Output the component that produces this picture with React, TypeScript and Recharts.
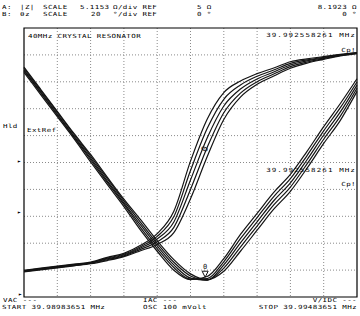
import React from 'react';
import { LineChart, Line, XAxis, YAxis, CartesianGrid, ReferenceArea, ReferenceDot } from 'recharts';

// sweep: START 39.98983651 MHz, STOP 39.99483651 MHz -> offset in kHz
const freqKHz = [0, 0.25, 0.5, 0.75, 1, 1.25, 1.5, 1.75, 2, 2.25, 2.5, 2.75, 3, 3.25, 3.5, 3.75, 4, 4.25, 4.5, 4.75, 5];

// |Z| in ohm, five overlaid sweeps
const zSweep1 = [47.7, 43.5, 39.3, 35.1, 30.7, 26.4, 22.2, 17.7, 13.7, 10.1, 8.3, 8.9, 12.3, 16.9, 20.9, 24.9, 28.3, 32.7, 37.4, 41.8, 46.5];
const zSweep2 = [48.0, 43.8, 39.6, 35.4, 31.1, 26.8, 22.6, 18.2, 14.2, 10.6, 8.4, 8.5, 11.7, 16.1, 20.1, 24.1, 27.5, 31.9, 36.6, 41.0, 45.9];
const zSweep3 = [48.2, 44.0, 39.8, 35.6, 31.4, 27.1, 22.9, 18.7, 14.7, 11.1, 8.6, 8.2, 11.1, 15.3, 19.3, 23.3, 26.7, 31.1, 35.8, 40.2, 45.3];
const zSweep4 = [48.5, 44.3, 40.1, 35.9, 31.8, 27.5, 23.3, 19.2, 15.2, 11.6, 9.0, 8.2, 10.5, 14.5, 18.5, 22.5, 25.9, 30.3, 35.0, 39.4, 44.7];
const zSweep5 = [48.7, 44.5, 40.3, 36.1, 32.1, 27.8, 23.6, 19.7, 15.7, 12.1, 9.4, 8.3, 9.9, 13.7, 17.7, 21.7, 25.1, 29.5, 34.2, 38.6, 44.1];

// theta z in degrees, five overlaid sweeps
const thSweep1 = [-80.1, -78.6, -77.1, -75.6, -74.1, -70.5, -67.6, -61.6, -52.9, -36.2, 1.0, 32.2, 52.0, 60.6, 66.1, 70.3, 74.9, 77.1, 78.7, 80.5, 81.8];
const thSweep2 = [-80.4, -78.9, -77.4, -75.9, -74.4, -71.1, -68.2, -62.6, -54.9, -40.2, -6.0, 25.2, 47.0, 57.6, 64.1, 68.8, 73.7, 76.3, 78.2, 80.2, 81.6];
const thSweep3 = [-80.7, -79.2, -77.7, -76.2, -74.7, -71.7, -68.8, -63.6, -56.9, -44.2, -13.0, 18.2, 42.0, 54.6, 62.1, 67.3, 72.5, 75.5, 77.7, 79.9, 81.4];
const thSweep4 = [-81.0, -79.5, -78.0, -76.5, -75.0, -72.3, -69.4, -64.6, -58.9, -48.2, -20.0, 11.2, 37.0, 51.6, 60.1, 65.8, 71.3, 74.7, 77.2, 79.6, 81.2];
const thSweep5 = [-81.3, -79.8, -78.3, -76.8, -75.3, -72.9, -70.0, -65.6, -60.9, -52.2, -27.0, 4.2, 32.0, 48.6, 58.1, 64.3, 70.1, 73.9, 76.7, 79.3, 81.0];

// scale settings
const zScale = 5.1153;
const zRef = 5;
const thScale = 20;
const thRef = 0;

// marker at 39.992558261 MHz
const markerKHz = 2.72;
const markerZ = 8.19;
const markerTh = 10;

const zSweeps = [zSweep1, zSweep2, zSweep3, zSweep4, zSweep5];
const thSweeps = [thSweep1, thSweep2, thSweep3, thSweep4, thSweep5];

const data = freqKHz.map((f, i) => {
  const row: Record<string, number> = { f };
  zSweeps.forEach((s, k) => (row['z' + k] = s[i]));
  thSweeps.forEach((s, k) => (row['t' + k] = s[i]));
  return row;
});

const font = '"DejaVu Sans Mono", monospace';

// screen text, y = top of the capitals
function T({ x, r, y, children, ls = 0.4 }: { x?: number; r?: number; y: number; children: React.ReactNode; ls?: number }) {
  const style: React.CSSProperties = {
    position: 'absolute',
    top: y - 0.1,
    fontFamily: font,
    fontSize: 7.5,
    lineHeight: 0.8,
    letterSpacing: ls,
    whiteSpace: 'pre',
    color: '#000',
    transform: 'scaleY(0.75)',
    transformOrigin: 'top left',
  };
  if (x !== undefined) style.left = x;
  if (r !== undefined) style.right = 360 - r;
  return <div style={style}>{children}</div>;
}

const ZMarker = (props: any) => {
  const { cx, cy } = props;
  return (
    <g>
      <polygon points={`${cx - 3},${cy - 9} ${cx + 3},${cy - 9} ${cx},${cy - 3}`} fill="#fff" stroke="#111" strokeWidth={1} />
      <text x={cx} y={cy - 11} textAnchor="middle" fontFamily={font} fontSize={7} fill="#111">0</text>
    </g>
  );
};

const ThMarker = (props: any) => {
  const { cx, cy } = props;
  return (
    <text x={cx} y={cy} textAnchor="middle" dominantBaseline="middle" fontFamily={font} fontSize={8.5} fill="#111" transform={`rotate(-65 ${cx} ${cy})`}>
      0
    </text>
  );
};

export default function App() {
  return (
    <div style={{ position: 'absolute', left: 0, top: 0, width: 360, height: 316, background: '#fff', overflow: 'hidden' }}>
      <LineChart width={360} height={316} data={data} margin={{ top: 28, right: 3, bottom: 19, left: 24 }}>
        <CartesianGrid
          stroke="#8a8a8a"
          strokeDasharray="1 2"
          verticalCoordinatesGenerator={({ offset }: any) => Array.from({ length: 9 }, (_, i) => offset.left + (offset.width * (i + 1)) / 10)}
          horizontalCoordinatesGenerator={({ offset }: any) => Array.from({ length: 9 }, (_, i) => offset.top + (offset.height * (i + 1)) / 10)}
        />
        <XAxis dataKey="f" type="number" domain={[0, 5]} hide />
        <YAxis yAxisId="z" domain={[zRef, zRef + 10 * zScale]} hide />
        <YAxis yAxisId="th" domain={[thRef - 5 * thScale, thRef + 5 * thScale]} hide />
        <ReferenceArea yAxisId="z" x1={0} x2={5} y1={zRef} y2={zRef + 10 * zScale} fill="none" stroke="#000" strokeWidth={1.2} />
        {zSweeps.map((_, k) => (
          <Line key={'z' + k} yAxisId="z" dataKey={'z' + k} type="monotone" stroke="#141414" strokeWidth={1.2} dot={false} isAnimationActive={false} />
        ))}
        {thSweeps.map((_, k) => (
          <Line key={'t' + k} yAxisId="th" dataKey={'t' + k} type="monotone" stroke="#141414" strokeWidth={1.2} dot={false} isAnimationActive={false} />
        ))}
        <ReferenceDot yAxisId="z" x={markerKHz} y={markerZ} shape={ZMarker} />
        <ReferenceDot yAxisId="th" x={markerKHz} y={markerTh} shape={ThMarker} />
      </LineChart>

      <T x={2} y={5}>A:</T>
      <T x={20} y={5}>|Z|</T>
      <T x={43} y={5}>SCALE</T>
      <T x={80} y={5}>5.1153</T>
      <T x={113} y={5}>Ω/div REF</T>
      <T x={197} y={5}>5 Ω</T>
      <T r={357} y={5}>8.1923 Ω</T>

      <T x={2} y={11.6}>B:</T>
      <T x={20} y={11.6}>θz</T>
      <T x={43} y={11.6}>SCALE</T>
      <T x={91} y={11.6}>20</T>
      <T x={113} y={11.6}>°/div REF</T>
      <T x={197} y={11.6}>0 °</T>
      <T r={357} y={11.6}>0 °</T>

      <T x={28} y={34}>40MHz CRYSTAL RESONATOR</T>
      <T r={356} y={33} ls={1.1}>39.992558261 MHz</T>
      <T r={356} y={48}>Cp!</T>
      <T x={3} y={124}>Hld</T>
      <T x={27} y={128.5}>ExtRef</T>
      <T r={356} y={168} ls={1.1}>39.992558261 MHz</T>
      <T r={356} y={182}>Cp!</T>
      <T x={17} y={159}>▸</T>
      <T x={17} y={210}>▸</T>
      <T x={18} y={292}>▸</T>

      <T x={3} y={298.2}>VAC ---</T>
      <T x={143} y={298.2}>IAC ---</T>
      <T r={357} y={298.2}>V/IDC ---</T>
      <T x={2} y={304.8}>START 39.98983651 MHz</T>
      <T x={143} y={304.8}>OSC 100 mVolt</T>
      <T r={357} y={304.8}>STOP 39.99483651 MHz</T>
    </div>
  );
}
